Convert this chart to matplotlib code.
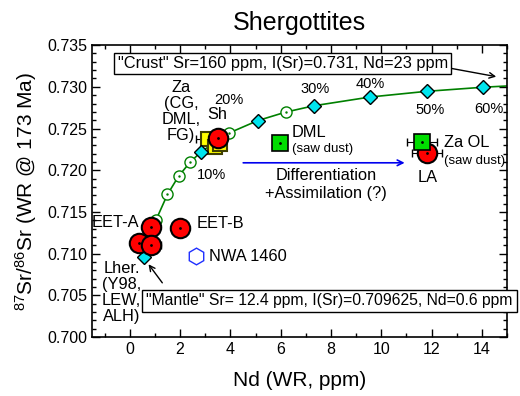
import numpy as np
import matplotlib
matplotlib.use("Agg")
import matplotlib.pyplot as plt
from matplotlib.ticker import MultipleLocator

plt.rcParams['font.family'] = ['Liberation Sans', 'DejaVu Sans']
plt.rcParams['mathtext.default'] = 'regular'

# mixing curve mantle -> crust (Nd ppm, 87Sr/86Sr)
mix_nd = [0.55, 1.05, 1.5, 1.94, 2.39, 2.84, 3.96, 5.08, 6.2, 7.32, 9.56, 11.8, 14.04, 16.3]
mix_sr = [0.70963, 0.71408, 0.7171, 0.71928, 0.72093, 0.72222, 0.72448, 0.72594,
          0.72697, 0.72773, 0.72878, 0.72946, 0.72995, 0.73031]
tick_idx = [0, 5, 7, 9, 10, 11, 12]      # 0%,10%,...,60%
open_idx = [1, 2, 3, 4, 6, 8]
pct_labels = ["10%", "20%", "30%", "40%", "50%", "60%"]
pct_x = [3.24, 3.96, 7.36, 9.56, 11.96, 14.28]
pct_y = [0.71942, 0.72841, 0.72973, 0.73033, 0.72721, 0.72733]

# whole rock samples
red_nd = [0.85, 2.0, 0.36, 0.83, 3.49, 11.83]
red_sr = [0.71322, 0.71302, 0.71122, 0.71102, 0.72381, 0.72201]
red_xerr = [0, 0, 0, 0.4, 0, 0.6]
za_nd = [3.1, 3.4, 3.6]
za_sr = [0.7237, 0.7228, 0.7231]
za_xerr = [0.45, 0, 0]
dust_nd = [5.99, 11.63]
dust_sr = [0.72322, 0.72334]
dust_xerr = [0, 0.6]
nwa_nd = [2.63]
nwa_sr = [0.7097]

fs = 11.8

fig, ax = plt.subplots(figsize=(5.2, 3.96), dpi=100)
fig.subplots_adjust(left=0.177, right=0.975, bottom=0.149, top=0.886)

mix_nd = np.array(mix_nd)
mix_sr = np.array(mix_sr)
ax.plot(mix_nd[1:], mix_sr[1:], color='#008000', lw=1.2, zorder=2)
ax.plot(mix_nd[open_idx], mix_sr[open_idx], 'o', mfc='white', mec='#008000', ms=8, mew=1, zorder=3)
ax.plot(mix_nd[open_idx], mix_sr[open_idx], '.', color='#008000', ms=1.5, zorder=3)

ax.errorbar(za_nd, za_sr, xerr=za_xerr, fmt='none', ecolor='black', elinewidth=0.8, capsize=3, zorder=3)
ax.plot(za_nd, za_sr, 's', mfc='#ffff00', mec='#404000', ms=10, mew=1.5, zorder=4)

ax.plot(mix_nd[tick_idx], mix_sr[tick_idx], 'D', mfc='#00e5ee', mec='black', ms=7, mew=1, zorder=5)

ax.errorbar(red_nd, red_sr, xerr=red_xerr, fmt='none', ecolor='black', elinewidth=0.8, capsize=3, zorder=5)
ax.plot(red_nd, red_sr, 'o', mfc='#ff0000', mec='black', ms=14, mew=1.5, zorder=6)
ax.plot(red_nd, red_sr, '.', color='black', ms=2, zorder=6)

ax.errorbar(dust_nd, dust_sr, xerr=dust_xerr, fmt='none', ecolor='black', elinewidth=0.8, capsize=3, zorder=7)
ax.plot(dust_nd, dust_sr, 's', mfc='#00dd00', mec='black', ms=11, mew=1.2, zorder=7)
ax.plot(dust_nd, dust_sr, '.', color='black', ms=2, zorder=7)

ax.plot(nwa_nd, nwa_sr, 'h', mfc='white', mec='#1f2fff', ms=12, mew=1, zorder=5)

for lab, x, y in zip(pct_labels, pct_x, pct_y):
    ax.text(x, y, lab, ha='center', va='center', fontsize=10.5)

ax.text(2.04, 0.72703, "Za\n(CG,\nDML,\nFG)", ha='center', va='center', fontsize=fs, linespacing=1.1)
ax.text(3.48, 0.72673, "Sh", ha='center', va='center', fontsize=fs)
ax.text(6.44, 0.72457, "DML", ha='left', va='center', fontsize=fs)
ax.text(6.44, 0.72253, "(saw dust)", ha='left', va='center', fontsize=9.5)
ax.text(12.48, 0.72337, "Za OL", ha='left', va='center', fontsize=fs)
ax.text(12.48, 0.72110, "(saw dust)", ha='left', va='center', fontsize=9.5)
ax.text(11.84, 0.71918, "LA", ha='center', va='center', fontsize=fs)
ax.text(7.8, 0.71942, "Differentiation", ha='center', va='center', fontsize=fs)
ax.text(7.8, 0.71726, "+Assimilation (?)", ha='center', va='center', fontsize=fs)
ax.annotate("", xy=(11.04, 0.72089), xytext=(4.4, 0.72089),
            arrowprops=dict(arrowstyle='->', color='#0000ee', lw=1.2))
ax.text(-0.56, 0.71378, "EET-A", ha='center', va='center', fontsize=fs)
ax.text(2.64, 0.71366, "EET-B", ha='left', va='center', fontsize=fs)
ax.text(3.16, 0.70971, "NWA 1460", ha='left', va='center', fontsize=fs)
ax.text(-0.32, 0.70534, "Lher.\n(Y98,\nLEW,\nALH)", ha='center', va='center', fontsize=fs, linespacing=1.1)

ax.text(-0.48, 0.73278, "\"Crust\" Sr=160 ppm, I(Sr)=0.731, Nd=23 ppm", ha='left', va='center', fontsize=fs,
        bbox=dict(boxstyle='square,pad=0.2', fc='white', ec='black', lw=1), zorder=8)
ax.annotate("", xy=(14.68, 0.73116), xytext=(12.66, 0.73228),
            arrowprops=dict(arrowstyle='->', color='black', lw=1))
ax.text(0.66, 0.70432, "\"Mantle\" Sr= 12.4 ppm, I(Sr)=0.709625, Nd=0.6 ppm", ha='left', va='center', fontsize=11.3,
        bbox=dict(boxstyle='square,pad=0.25', fc='white', ec='black', lw=1), zorder=8, clip_on=False)
ax.annotate("", xy=(0.68, 0.70899), xytext=(1.36, 0.70623),
            arrowprops=dict(arrowstyle='->', color='black', lw=1))

ax.set_xlim(-1.5, 15)
ax.set_ylim(0.700, 0.735)
ax.xaxis.set_major_locator(MultipleLocator(2))
ax.xaxis.set_minor_locator(MultipleLocator(1))
ax.yaxis.set_major_locator(MultipleLocator(0.005))
ax.yaxis.set_minor_locator(MultipleLocator(0.001))
ax.yaxis.set_major_formatter(plt.FormatStrFormatter('%.3f'))
ax.tick_params(which='both', direction='in', top=True, right=True, labelsize=11.5)
ax.tick_params(which='major', length=6, width=1)
ax.tick_params(which='minor', length=3, width=1)
for s in ax.spines.values():
    s.set_linewidth(1.2)

ax.set_xlabel("Nd (WR, ppm)", fontsize=15, labelpad=10)
ax.set_ylabel("$^{87}$Sr/$^{86}$Sr (WR @ 173 Ma)", fontsize=15, labelpad=6)
ax.set_title("Shergottites", fontsize=18, pad=11)

fig.savefig("out.png", dpi=100)
